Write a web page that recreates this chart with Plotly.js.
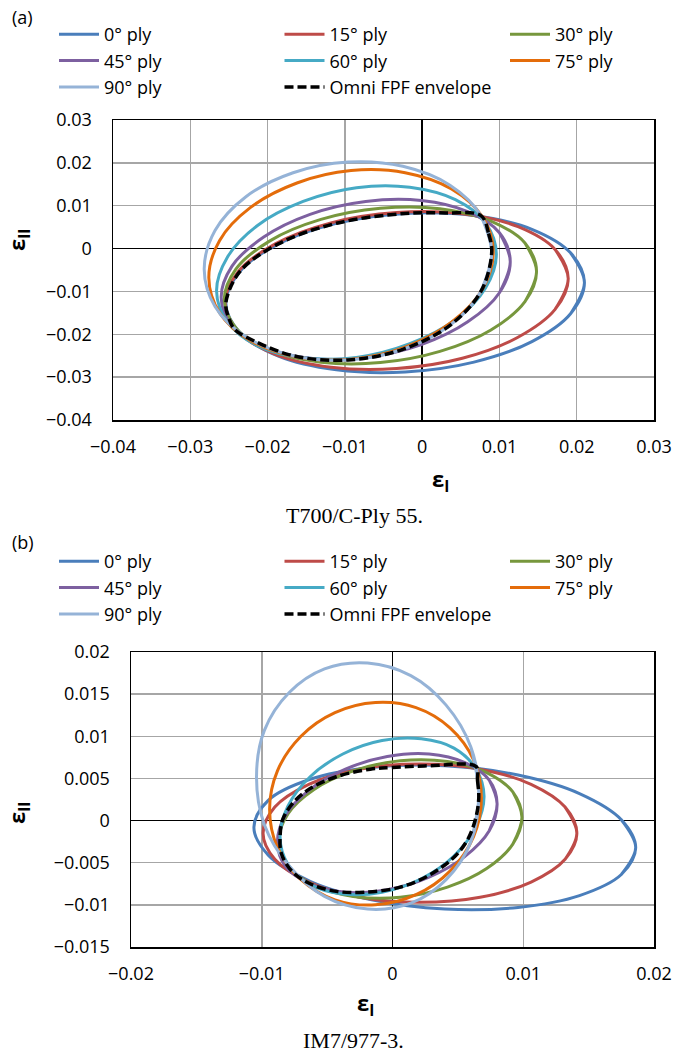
<!DOCTYPE html>
<html><head><meta charset="utf-8">
<script src="https://cdn.plot.ly/plotly-3.0.1.min.js"></script>
<style>html,body{margin:0;padding:0;background:#fff}#chart{width:673px;height:1056px}</style>
</head><body><div id="chart"></div>
<script>
const seriesNames = ['0° ply','15° ply','30° ply','45° ply','60° ply','75° ply','90° ply','Omni FPF envelope'];

// ---------- (a) T700/C-Ply 55 : points read around each closed curve ----------
const a0x = [0.0192,0.0210,0.0192,0.0142,0.0067,-0.0022,-0.0111,-0.0186,-0.0236,-0.0254,-0.0236,-0.0186,-0.0111,-0.0022,0.0067,0.0142,0.0192,0.0210,0.0192];
const a0y = [-0.0152,-0.0079,-0.0010,0.0045,0.0077,0.0082,0.0059,0.0011,-0.0054,-0.0127,-0.0196,-0.0251,-0.0283,-0.0288,-0.0265,-0.0217,-0.0152,-0.0079,-0.0010];
const a15x = [0.0172,0.0189,0.0172,0.0124,0.0052,-0.0033,-0.0118,-0.0190,-0.0238,-0.0255,-0.0238,-0.0190,-0.0118,-0.0033,0.0052,0.0124,0.0172,0.0189,0.0172];
const a15y = [-0.0142,-0.0070,-0.0002,0.0051,0.0081,0.0084,0.0060,0.0011,-0.0054,-0.0126,-0.0194,-0.0247,-0.0277,-0.0280,-0.0256,-0.0207,-0.0142,-0.0070,-0.0002];
const a30x = [0.0133,0.0148,0.0133,0.0089,0.0023,-0.0054,-0.0131,-0.0197,-0.0241,-0.0256,-0.0241,-0.0197,-0.0131,-0.0054,0.0023,0.0089,0.0133,0.0148,0.0133];
const a30y = [-0.0124,-0.0053,0.0013,0.0064,0.0093,0.0094,0.0068,0.0018,-0.0048,-0.0119,-0.0185,-0.0237,-0.0265,-0.0266,-0.0240,-0.0190,-0.0124,-0.0053,0.0013];
const a45x = [0.0100,0.0114,0.0100,0.0059,-0.0001,-0.0073,-0.0145,-0.0205,-0.0246,-0.0260,-0.0246,-0.0205,-0.0145,-0.0073,-0.0001,0.0059,0.0100,0.0114,0.0100];
const a45y = [-0.0103,-0.0030,0.0037,0.0086,0.0112,0.0110,0.0080,0.0027,-0.0041,-0.0114,-0.0181,-0.0230,-0.0256,-0.0254,-0.0224,-0.0171,-0.0103,-0.0030,0.0037];
const a60x = [0.0082,0.0096,0.0082,0.0043,-0.0016,-0.0085,-0.0154,-0.0213,-0.0252,-0.0266,-0.0252,-0.0213,-0.0154,-0.0085,-0.0016,0.0043,0.0082,0.0096,0.0082];
const a60y = [-0.0092,-0.0013,0.0060,0.0114,0.0143,0.0142,0.0110,0.0054,-0.0020,-0.0099,-0.0171,-0.0227,-0.0255,-0.0254,-0.0222,-0.0166,-0.0092,-0.0013,0.0060];
const a75x = [0.0078,0.0092,0.0078,0.0038,-0.0022,-0.0092,-0.0162,-0.0222,-0.0262,-0.0276,-0.0262,-0.0222,-0.0162,-0.0092,-0.0022,0.0038,0.0078,0.0092,0.0078];
const a75y = [-0.0095,-0.0008,0.0074,0.0139,0.0177,0.0182,0.0153,0.0096,0.0019,-0.0068,-0.0150,-0.0215,-0.0253,-0.0258,-0.0230,-0.0172,-0.0095,-0.0008,0.0074];
const a90x = [0.0076,0.0090,0.0076,0.0036,-0.0025,-0.0096,-0.0167,-0.0228,-0.0268,-0.0282,-0.0268,-0.0228,-0.0167,-0.0096,-0.0025,0.0036,0.0076,0.0090,0.0076];
const a90y = [-0.0100,-0.0010,0.0077,0.0148,0.0192,0.0202,0.0177,0.0121,0.0042,-0.0048,-0.0135,-0.0206,-0.0250,-0.0260,-0.0235,-0.0179,-0.0100,-0.0010,0.0077];
const aEnvX = [0.0076,0.0086,0.0090,0.0076,0.0036,-0.0025,-0.0096,-0.0167,-0.0228,-0.0243,-0.0250,-0.0254,-0.0236,-0.0186,-0.0111,-0.0022,0.0030,0.0076];
const aEnvY = [0.0077,0.0035,-0.0010,-0.0100,-0.0179,-0.0235,-0.0260,-0.0250,-0.0206,-0.0188,-0.0163,-0.0127,-0.0054,0.0011,0.0059,0.0082,0.0083,0.0077];

// ---------- (b) IM7/977-3 ----------
const b0x = [0.0175,0.0186,0.0175,0.0143,0.0096,0.0040,-0.0016,-0.0063,-0.0095,-0.0106,-0.0095,-0.0063,-0.0016,0.0040,0.0096,0.0143,0.0175,0.0186,0.0175];
const b0y = [-0.0064,-0.0032,0.0001,0.0032,0.0054,0.0065,0.0063,0.0049,0.0024,-0.0008,-0.0041,-0.0072,-0.0094,-0.0105,-0.0103,-0.0089,-0.0064,-0.0032,0.0001];
const b15x = [0.0132,0.0141,0.0132,0.0106,0.0067,0.0021,-0.0025,-0.0064,-0.0090,-0.0099,-0.0090,-0.0064,-0.0025,0.0021,0.0067,0.0106,0.0132,0.0141,0.0132];
const b15y = [-0.0046,-0.0015,0.0016,0.0043,0.0061,0.0067,0.0061,0.0043,0.0016,-0.0015,-0.0046,-0.0073,-0.0091,-0.0097,-0.0091,-0.0073,-0.0046,-0.0015,0.0016];
const b30x = [0.0092,0.0099,0.0092,0.0072,0.0042,0.0006,-0.0030,-0.0060,-0.0080,-0.0087,-0.0080,-0.0060,-0.0030,0.0006,0.0042,0.0072,0.0092,0.0099,0.0092];
const b30y = [-0.0028,0.0004,0.0034,0.0057,0.0070,0.0071,0.0059,0.0037,0.0008,-0.0024,-0.0054,-0.0077,-0.0090,-0.0091,-0.0079,-0.0057,-0.0028,0.0004,0.0034];
const b45x = [0.0074,0.0080,0.0074,0.0055,0.0028,-0.0004,-0.0036,-0.0063,-0.0082,-0.0088,-0.0082,-0.0063,-0.0036,-0.0004,0.0028,0.0055,0.0074,0.0080,0.0074];
const b45y = [-0.0012,0.0020,0.0048,0.0069,0.0079,0.0076,0.0061,0.0037,0.0006,-0.0026,-0.0054,-0.0075,-0.0085,-0.0082,-0.0067,-0.0043,-0.0012,0.0020,0.0048];
const b60x = [0.0064,0.0070,0.0064,0.0047,0.0022,-0.0008,-0.0038,-0.0063,-0.0080,-0.0086,-0.0080,-0.0063,-0.0038,-0.0008,0.0022,0.0047,0.0064,0.0070,0.0064];
const b60y = [-0.0007,0.0029,0.0061,0.0086,0.0097,0.0095,0.0079,0.0052,0.0017,-0.0019,-0.0052,-0.0076,-0.0087,-0.0085,-0.0069,-0.0042,-0.0007,0.0029,0.0061];
const b75x = [0.0062,0.0068,0.0062,0.0044,0.0018,-0.0013,-0.0044,-0.0070,-0.0088,-0.0094,-0.0088,-0.0070,-0.0044,-0.0013,0.0018,0.0044,0.0062,0.0068,0.0062];
const b75y = [-0.0019,0.0027,0.0072,0.0110,0.0134,0.0140,0.0128,0.0100,0.0059,0.0013,-0.0032,-0.0070,-0.0094,-0.0100,-0.0088,-0.0060,-0.0019,0.0027,0.0072];
const b90x = [0.0060,0.0066,0.0060,0.0041,0.0014,-0.0019,-0.0052,-0.0079,-0.0098,-0.0104,-0.0098,-0.0079,-0.0052,-0.0019,0.0014,0.0041,0.0060,0.0066,0.0060];
const b90y = [-0.0025,0.0030,0.0087,0.0137,0.0172,0.0187,0.0180,0.0152,0.0107,0.0052,-0.0005,-0.0054,-0.0090,-0.0105,-0.0098,-0.0070,-0.0025,0.0030,0.0087];
const bEnvX = [0.0064,0.0065,0.0066,0.0064,0.0058,0.0048,0.0029,0.0006,-0.0022,-0.0043,-0.0063,-0.0077,-0.0085,-0.0086,-0.0084,-0.0076,-0.0063,-0.0043,-0.0017,0.0000,0.0029,0.0064];
const bEnvY = [0.0064,0.0048,0.0028,0.0005,-0.0021,-0.0042,-0.0064,-0.0079,-0.0085,-0.0084,-0.0075,-0.0060,-0.0039,-0.0019,0.0001,0.0021,0.0038,0.0052,0.0061,0.0063,0.0065,0.0064];

// ---------- ticks ----------
const aXTicks = [-0.04,-0.03,-0.02,-0.01,0,0.01,0.02,0.03];
const aXTickText = ['\u22120.04','\u22120.03','\u22120.02','\u22120.01','0','0.01','0.02','0.03'];
const aYTicks = [-0.04,-0.03,-0.02,-0.01,0,0.01,0.02,0.03];
const aYTickText = ['\u22120.04','\u22120.03','\u22120.02','\u22120.01','0','0.01','0.02','0.03'];
const bXTicks = [-0.02,-0.01,0,0.01,0.02];
const bXTickText = ['\u22120.02','\u22120.01','0','0.01','0.02'];
const bYTicks = [-0.015,-0.01,-0.005,0,0.005,0.01,0.015,0.02];
const bYTickText = ['\u22120.015','\u22120.01','\u22120.005','0','0.005','0.01','0.015','0.02'];

// ---------- styling ----------
const colors = ['#4A7EBB','#BE4B48','#77973D','#7D60A0','#46AAC5','#E46C0A','#95B3D7','#000000'];
const FONT = '"Open Sans", "Liberation Sans", Arial, sans-serif';
const SERIF = '"Liberation Serif", "Times New Roman", serif';
const W = 673, H = 1056;

const aSeries = [[a0x,a0y],[a15x,a15y],[a30x,a30y],[a45x,a45y],[a60x,a60y],[a75x,a75y],[a90x,a90y],[aEnvX,aEnvY]];
const bSeries = [[b0x,b0y],[b15x,b15y],[b30x,b30y],[b45x,b45y],[b60x,b60y],[b75x,b75y],[b90x,b90y],[bEnvX,bEnvY]];

const traces = [];
function addTraces(series, xa, ya, leg){
  series.forEach((s, i) => {
    const env = i === 7;
    const t = {
      x: s[0], y: s[1], xaxis: xa, yaxis: ya, mode: 'lines', name: seriesNames[i],
      legend: leg, hoverinfo: 'skip',
      line: {color: colors[i], width: env ? 3.5 : 3, shape: 'spline', smoothing: 1, simplify: false,
             dash: env ? '9px,4px' : 'solid'}
    };
    if (i === 2 || i === 5) t.legendwidth = 70;   // last legend column: keep the box inside the page
    traces.push(t);
  });
}
addTraces(aSeries, 'x', 'y', 'legend');
addTraces(bSeries, 'x2', 'y2', 'legend2');

function axis(domain, range, tv, tt, anchor, standoff){
  return {domain: domain, range: range, anchor: anchor, tickmode: 'array', tickvals: tv, ticktext: tt,
    showgrid: true, gridcolor: '#a6a6a6', gridwidth: 1.5,
    zeroline: true, zerolinecolor: '#000', zerolinewidth: 1.5,
    showline: true, mirror: true, linecolor: '#000', linewidth: 1.5,
    ticks: '', ticklabelstandoff: standoff,
    tickfont: {family: FONT, size: 18, color: '#000'}, fixedrange: true};
}
const px = v => v / W;
const py = v => 1 - v / H;

function legendAt(topPx){
  return {x: px(54), xanchor: 'left', y: py(topPx), yanchor: 'top', orientation: 'h',
    entrywidth: 170.5, entrywidthmode: 'pixels', itemwidth: 40, traceorder: 'normal',
    font: {family: FONT, size: 18, color: '#000'}, bgcolor: 'rgba(0,0,0,0)', borderwidth: 0};
}

function ann(text, x, y, size, family, angle){
  return {xref: 'paper', yref: 'paper', x: px(x), y: py(y), xanchor: 'center', yanchor: 'middle',
    text: text, showarrow: false, textangle: angle || 0,
    font: {family: family, size: size, color: '#000'}};
}

const layout = {
  width: W, height: H, margin: {l: 0, r: 0, t: 0, b: 0},
  paper_bgcolor: '#fff', plot_bgcolor: '#fff', hovermode: false,
  xaxis: axis([px(113), px(654)], [-0.04, 0.03], aXTicks, aXTickText, 'y', 10),
  yaxis: axis([py(420), py(120)], [-0.04, 0.03], aYTicks, aYTickText, 'x', 16),
  xaxis2: axis([px(131), px(654)], [-0.02, 0.02], bXTicks, bXTickText, 'y2', 10),
  yaxis2: axis([py(947), py(652)], [-0.015, 0.02], bYTicks, bYTickText, 'x2', 16),
  legend: legendAt(16),
  legend2: legendAt(543),
  annotations: [
    ann('(a)', 23, 17, 18, FONT),
    ann('(b)', 23, 542, 18, FONT),
    ann('<b>ε<sub>I</sub></b>', 440, 480, 22, FONT),
    ann('<b>ε<sub>II</sub></b>', 18, 240, 22, FONT, -90),
    ann('<b>ε<sub>I</sub></b>', 366, 1004, 22, FONT),
    ann('<b>ε<sub>II</sub></b>', 18, 813, 22, FONT, -90),
    ann('T700/C-Ply 55.', 354, 515, 22, SERIF),
    ann('IM7/977-3.', 353, 1040, 22, SERIF)
  ]
};

Plotly.newPlot('chart', traces, layout, {staticPlot: true, displayModeBar: false});
</script>
</body></html>
